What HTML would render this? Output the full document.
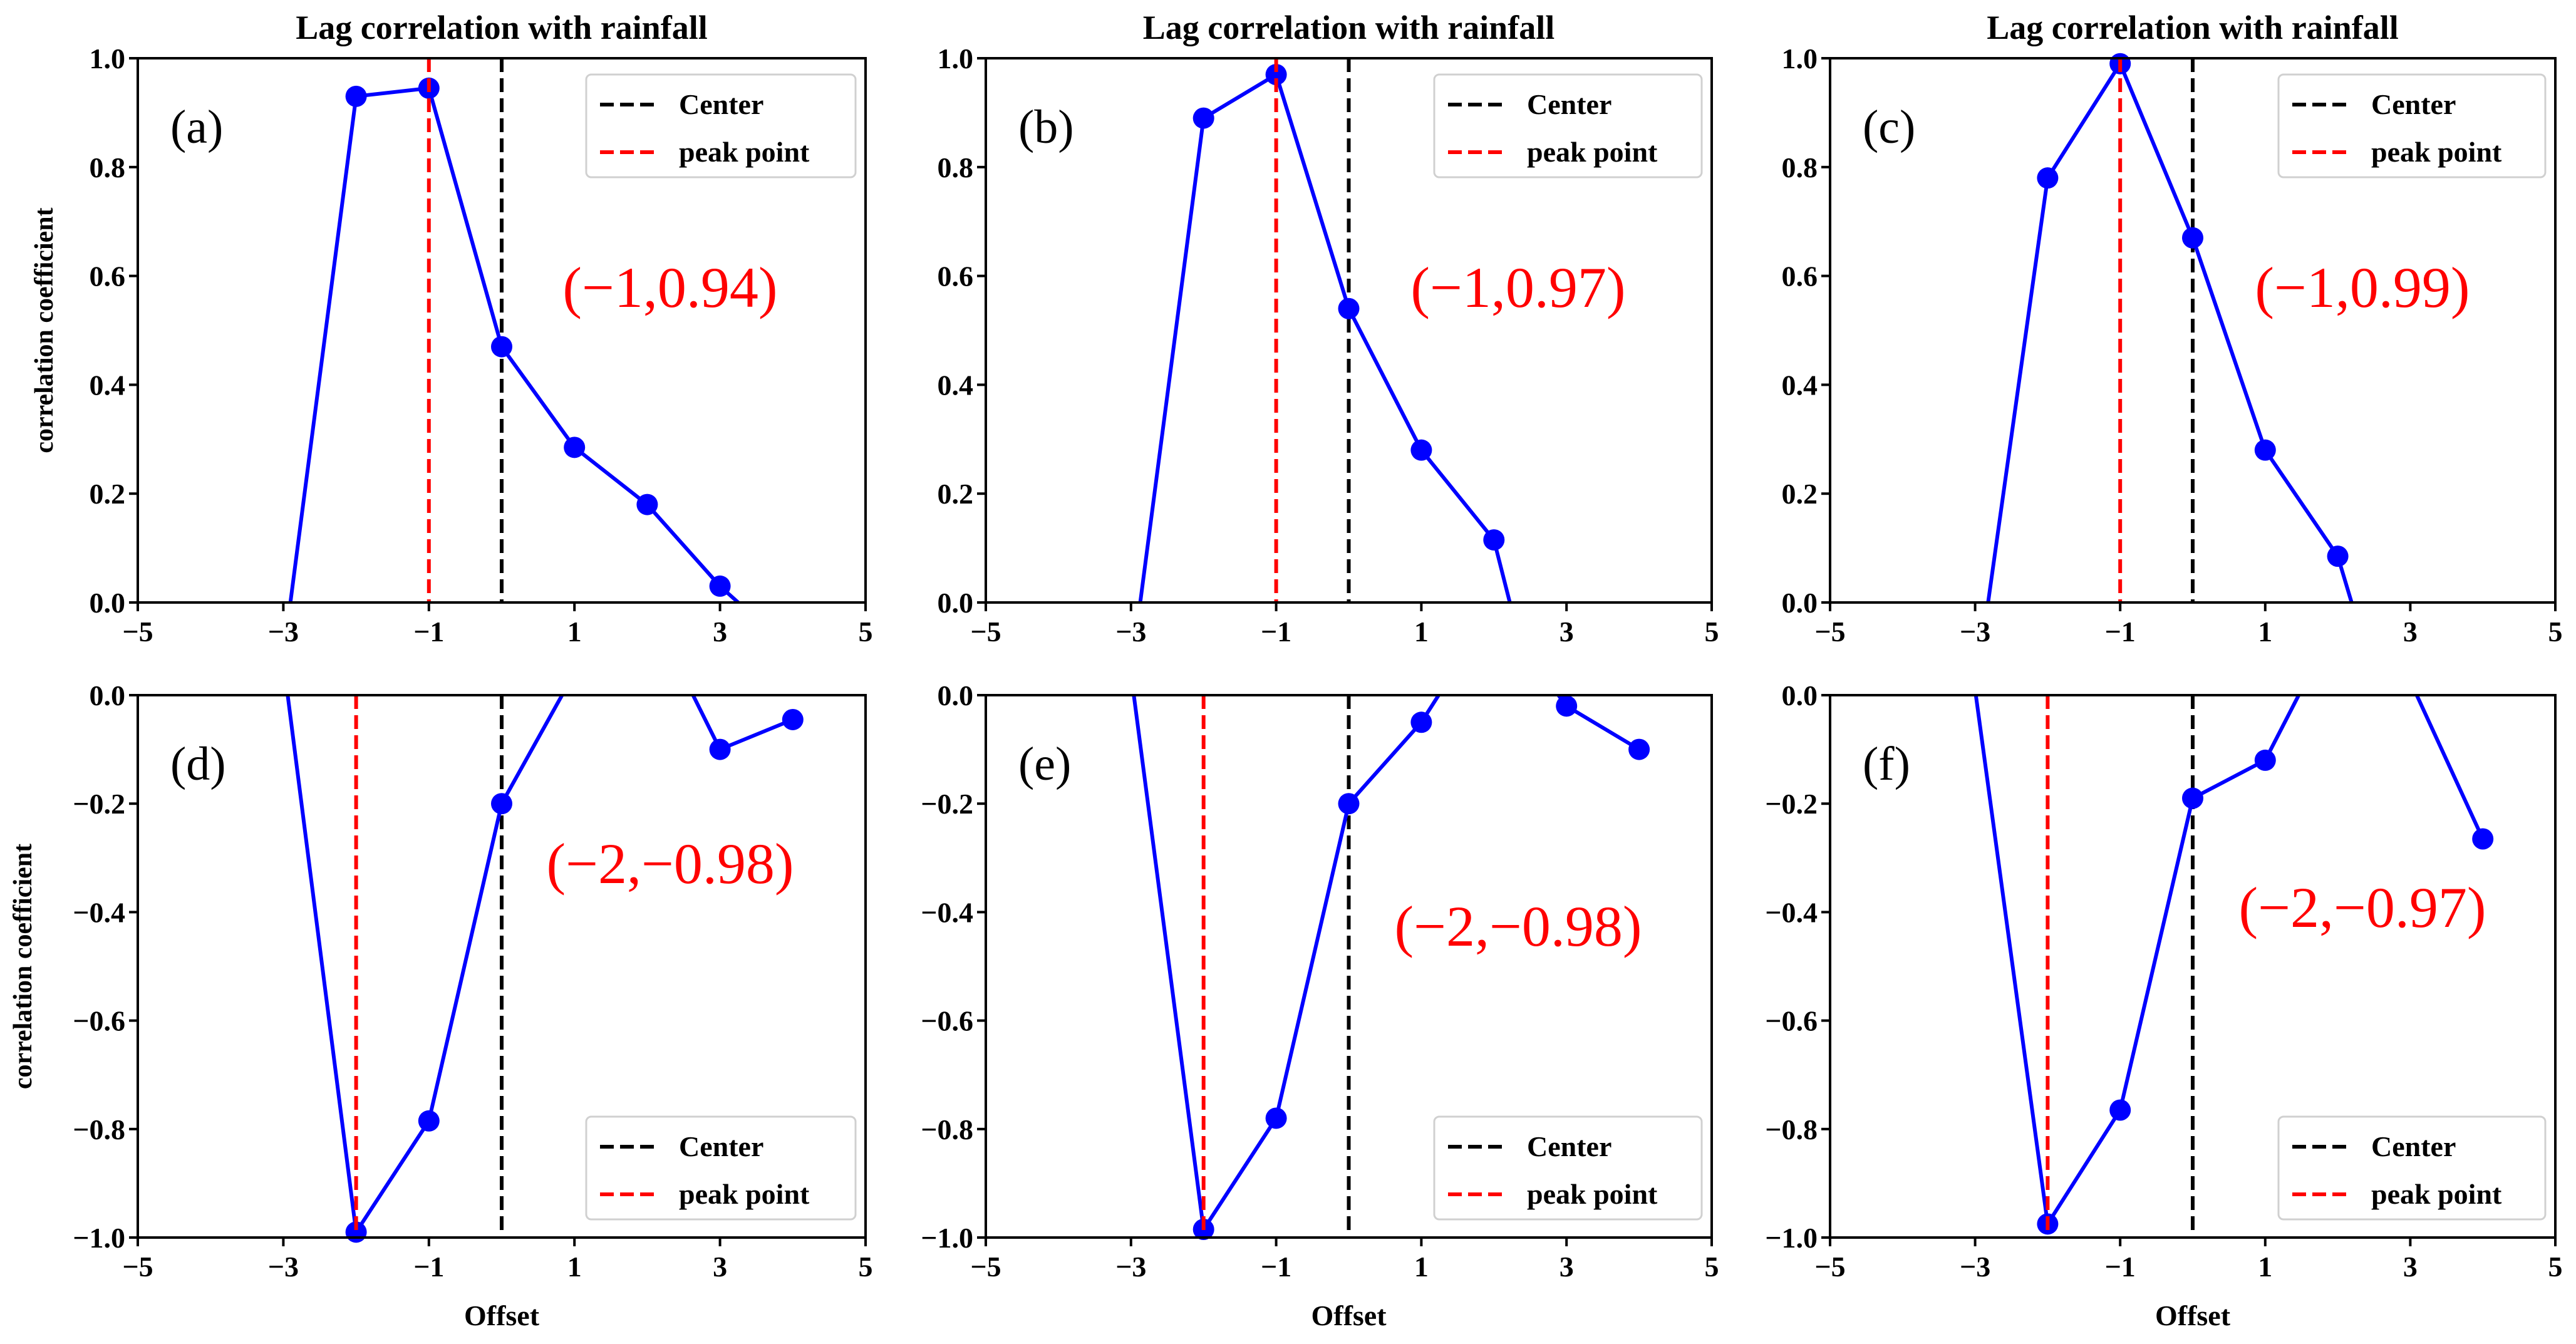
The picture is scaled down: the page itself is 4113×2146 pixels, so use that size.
<!DOCTYPE html>
<html><head><meta charset="utf-8"><style>
html,body{margin:0;padding:0;background:#fff;}
svg{display:block;font-family:"Liberation Serif",serif;}
</style></head><body>
<svg id="fig" width="4113" height="2146" viewBox="0 0 4113 2146" xmlns="http://www.w3.org/2000/svg"></svg>
<script>
const offsets = [-5,-4,-3,-2,-1,0,1,2,3,4];
const seriesA = [null,null,-0.10,0.93,0.945,0.47,0.285,0.18,0.03,-0.09];
const seriesB = [null,null,-0.13,0.89,0.97,0.54,0.28,0.115,-0.41,null];
const seriesC = [null,null,-0.17,0.78,0.99,0.67,0.28,0.085,-0.36,null];
const seriesD = [null,null,0.063,-0.99,-0.785,-0.20,0.041,0.17,-0.10,-0.045];
const seriesE = [null,null,0.04,-0.985,-0.78,-0.20,-0.05,0.16,-0.02,-0.10];
const seriesF = [null,null,0.01,-0.975,-0.765,-0.19,-0.12,0.14,0.026,-0.265];
const visibleA = [-2,-1,0,1,2,3];
const visibleB = [-2,-1,0,1,2];
const visibleC = [-2,-1,0,1,2];
const visibleD = [-2,-1,0,3,4];
const visibleE = [-2,-1,0,1,3,4];
const visibleF = [-2,-1,0,1,4];
const peakX = [-1,-1,-1,-2,-2,-2];
const peakLabels = ["(\u22121,0.94)","(\u22121,0.97)","(\u22121,0.99)","(\u22122,\u22120.98)","(\u22122,\u22120.98)","(\u22122,\u22120.97)"];
const panelLetters = ["(a)","(b)","(c)","(d)","(e)","(f)"];
const xTicks = [-5,-3,-1,1,3,5];
const xTickLabels = ["\u22125","\u22123","\u22121","1","3","5"];
const yTicksTop = [0,0.2,0.4,0.6,0.8,1.0];
const yTickLabelsTop = ["0.0","0.2","0.4","0.6","0.8","1.0"];
const yTicksBot = [-1.0,-0.8,-0.6,-0.4,-0.2,0];
const yTickLabelsBot = ["\u22121.0","\u22120.8","\u22120.6","\u22120.4","\u22120.2","0.0"];

const NS="http://www.w3.org/2000/svg";
const svg=document.getElementById('fig');
function mk(tag,attrs,parent){const e=document.createElementNS(NS,tag);for(const k in attrs)e.setAttribute(k,attrs[k]);(parent||svg).appendChild(e);return e;}

const cols=[[220,1382],[1574,2733],[2922,4080]];
const rows=[[93,962],[1110,1976]];
const series=[seriesA,seriesB,seriesC,seriesD,seriesE,seriesF];
const visible=[visibleA,visibleB,visibleC,visibleD,visibleE,visibleF];

for(let p=0;p<6;p++){
  const r=Math.floor(p/3), c=p%3;
  const [x0,x1]=cols[c],[y0,y1]=rows[r];
  const ymin=r===0?0:-1, ymax=r===0?1:0;
  const sx=v=>x0+(v+5)/10*(x1-x0);
  const sy=v=>y1-(v-ymin)/(ymax-ymin)*(y1-y0);
  const g=mk('g',{});
  
  
  const cid='clip'+p;
  const cp=mk('clipPath',{id:cid},g); mk('rect',{x:x0,y:y0,width:x1-x0,height:y1-y0},cp);
  const cl=mk('line',{x1:sx(0),x2:sx(0),y1:y0,y2:y1,stroke:'#000','stroke-width':6,'stroke-dasharray':'22,10'},g);
  
  
  const s=series[p]; let d='';
  offsets.forEach((o,i)=>{ if(s[i]===null)return; d+=(d?'L':'M')+sx(o)+','+sy(s[i]); });
  const pl=mk('path',{d:d,fill:'none',stroke:'#0000ff','stroke-width':6,'clip-path':'url(#'+cid+')'},g);
  
  
  visible[p].forEach(o=>{
    const i=offsets.indexOf(o);
    const m=mk('circle',{cx:sx(o),cy:sy(s[i]),r:17,fill:'#0000ff'},g);
    
    
  });
  const pk=mk('line',{x1:sx(peakX[p]),x2:sx(peakX[p]),y1:y0,y2:y1,stroke:'#ff0000','stroke-width':6,'stroke-dasharray':'22,10'},g);
  
  
  const fr=mk('rect',{x:x0,y:y0,width:x1-x0,height:y1-y0,fill:'none',stroke:'#000','stroke-width':4},g);
  
  
  xTicks.forEach((t,i)=>{
    mk('line',{x1:sx(t),x2:sx(t),y1:y1,y2:y1+14,stroke:'#000','stroke-width':4},g);
    const tx=mk('text',{x:sx(t),y:y1+62,'font-size':46,'font-weight':'bold','text-anchor':'middle'},g);
    tx.textContent=xTickLabels[i];
    
    
  });
  const yt=r===0?yTicksTop:yTicksBot, ytl=r===0?yTickLabelsTop:yTickLabelsBot;
  yt.forEach((t,i)=>{
    mk('line',{x1:x0-14,x2:x0,y1:sy(t),y2:sy(t),stroke:'#000','stroke-width':4},g);
    const tx=mk('text',{x:x0-20,y:sy(t)+16,'font-size':46,'font-weight':'bold','text-anchor':'end'},g);
    tx.textContent=ytl[i];
    
    
  });
  const pl2=mk('text',{x:x0+52,y:y0+135,'font-size':76},g);
  pl2.textContent=panelLetters[p];
  
  
  const lx=x0+850;
  const ly=r===0?y0+397:[y0+300,y0+400,y0+370][c];
  const lb=mk('text',{x:lx,y:ly,'font-size':92,fill:'#ff0000','text-anchor':'middle'},g);
  lb.textContent=peakLabels[p];
  
  
  const lgx=x0+716, lgy=r===0?y0+26:y0+673, lgw=x1-x0-732, lgh=164;
  const lg=mk('g',{},g);
  
  
  mk('rect',{x:lgx,y:lgy,width:lgw,height:lgh,rx:8,fill:'#fff','fill-opacity':0.85,stroke:'#d0d0d0','stroke-width':3},lg);
  [['#000','Center'],['#ff0000','peak point']].forEach((e,k)=>{
    const yy=lgy+48+k*76;
    mk('line',{x1:lgx+22,x2:lgx+118,y1:yy,y2:yy,stroke:e[0],'stroke-width':6,'stroke-dasharray':'22,10'},lg);
    const t=mk('text',{x:lgx+148,y:yy+15,'font-size':46,'font-weight':'bold'},lg);
    t.textContent=e[1];
    
    
  });
  if(r===0){
    const t=mk('text',{x:(x0+x1)/2,y:62,'font-size':54,'font-weight':'bold','text-anchor':'middle'},g);
    t.textContent='Lag correlation with rainfall';
    
    
  } else {
    const t=mk('text',{x:(x0+x1)/2,y:2116,'font-size':46,'font-weight':'bold','text-anchor':'middle'},g);
    t.textContent='Offset';
    
    
  }
  if(c===0){
    const cy=(y0+y1)/2;
    const t=mk('text',{x:0,y:0,'font-size':42,'font-weight':'bold','text-anchor':'middle',transform:'translate('+(r===0?84:50)+','+cy+') rotate(-90)'},g);
    t.textContent='correlation coefficient';
    
    
  }
}
</script>
</body></html>
